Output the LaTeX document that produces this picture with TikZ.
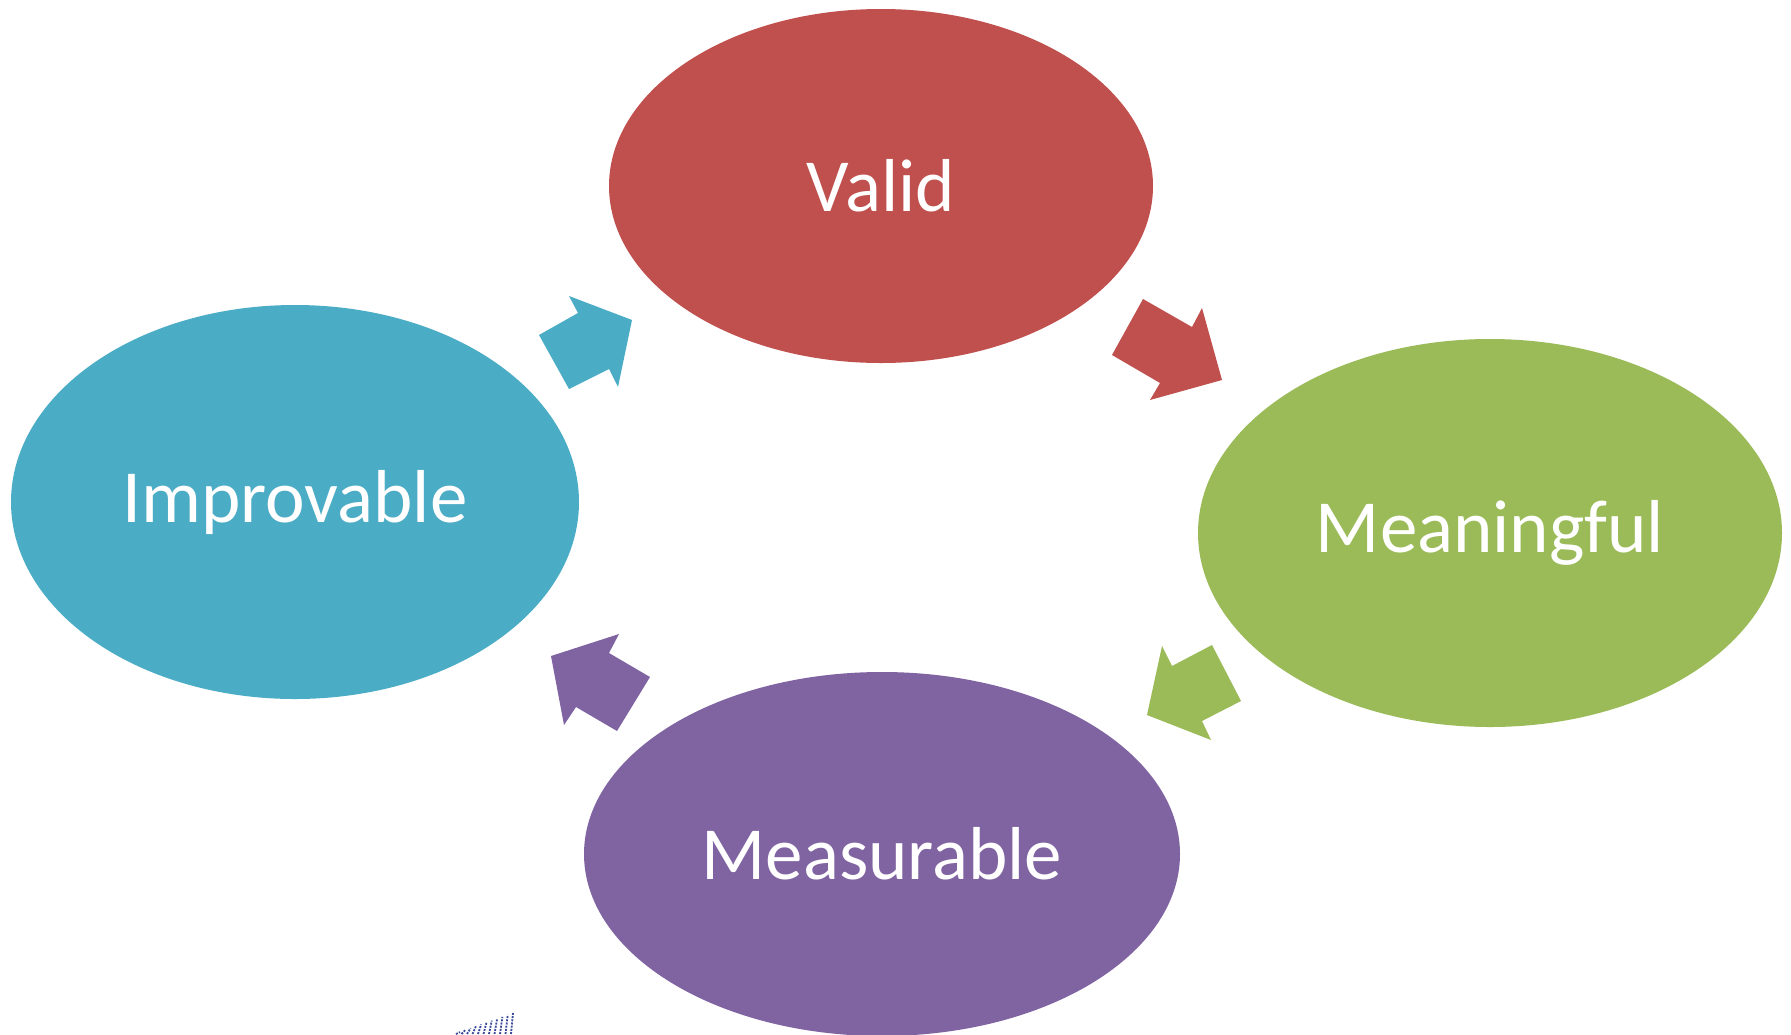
\documentclass[tikz,border=0pt]{standalone}
\usepackage{fontspec}
\setmainfont{Carlito}
\usetikzlibrary{shapes.geometric}
\definecolor{validred}{HTML}{C0504D}
\definecolor{improvblue}{HTML}{4BACC6}
\definecolor{meangreen}{HTML}{9BBB59}
\definecolor{measpurple}{HTML}{8064A2}
\definecolor{specknavy}{HTML}{3A4A9A}
\tikzset{
  stage/.style={ellipse, inner sep=0pt, text=white,
    font=\fontsize{75}{90}\selectfont},
  blockarrow/.style={draw=none}
}

\begin{document}
\begin{tikzpicture}[x=1pt,y=-1pt]
    % Canvas
    \useasboundingbox (0,0) rectangle (1791,1034);

    % Stages
    \node[stage, fill=validred, minimum width=544pt, minimum height=354pt] (valid) at (881,186) {Valid};
    \node[stage, fill=improvblue, minimum width=568pt, minimum height=394pt] (improvable) at (295,502) {Improvable};
    \node[stage, fill=meangreen, minimum width=584pt, minimum height=388pt] (meaningful) at (1490,533) {Meaningful};
    \node[stage, fill=measpurple, minimum width=596pt, minimum height=364pt] (measurable) at (882,854) {Measurable};

    % Block arrows between stages
    \fill[improvblue, blockarrow] (569,296) -- (632,320) -- (618,387) -- (609,369) -- (569,389) -- (539,335) -- (578,313) -- cycle;
    \fill[validred, blockarrow] (1143,299) -- (1192,327) -- (1202,308) -- (1222,380) -- (1150,400) -- (1160,383) -- (1112,355) -- cycle;
    \fill[meangreen, blockarrow] (1212,645) -- (1241,701) -- (1202,721) -- (1211,740) -- (1147,715) -- (1162,646) -- (1172,666) -- cycle;
    \fill[measpurple, blockarrow] (650,677) -- (617,731) -- (576,707) -- (564,725) -- (551,656) -- (619,634) -- (609,653) -- cycle;

    % Speck at the bottom edge
    \foreach \i in {0,...,10}
      \draw[specknavy, line width=1.8pt, dash pattern=on 2pt off 1.2pt]
        (456+5.5*\i,1034) -- (460+5.3*\i,1032-1.9*\i);
\end{tikzpicture}
\end{document}
